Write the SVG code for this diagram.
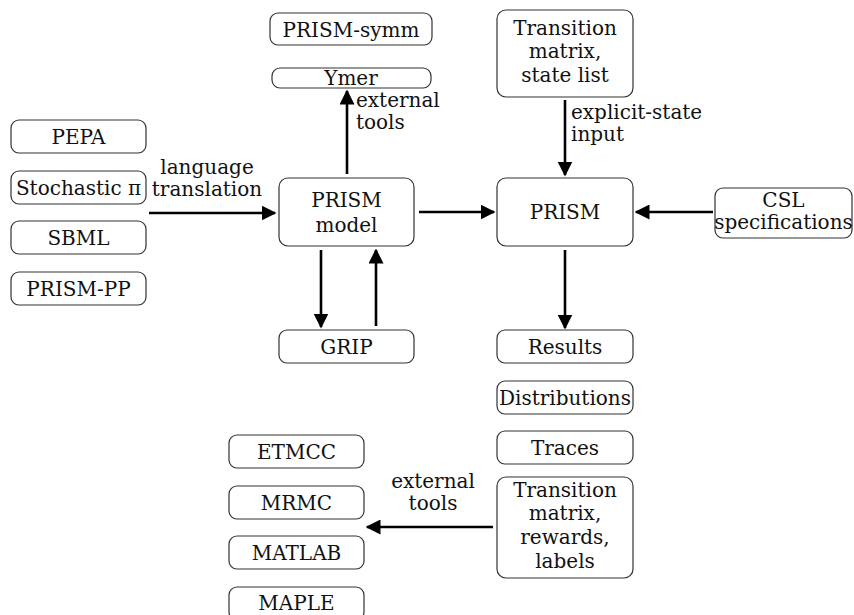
<svg xmlns="http://www.w3.org/2000/svg" width="854" height="615" viewBox="0 0 854 615" font-family="'DejaVu Serif', serif">
<style>
.box{fill:#fff;stroke:#333;stroke-width:1.2}
text{font-family:"DejaVu Serif",serif;font-size:20px;fill:#111}
.c{text-anchor:middle}
.arr{stroke:#000;stroke-width:2.6;fill:none;marker-end:url(#ah)}
</style>
<defs>
<marker id="ah" viewBox="0 0 10 10" refX="9" refY="5" markerUnits="userSpaceOnUse" markerWidth="15" markerHeight="15" orient="auto">
<path d="M0,0 L10,5 L0,10 z" fill="#000"/>
</marker>
</defs>
<rect width="854" height="615" fill="#fff"/>
<g id="pepa"><rect class="box" x="11" y="120" width="135" height="33" rx="8"/><text class="c" x="78.5" y="144">PEPA</text></g>
<g id="stochpi"><rect class="box" x="11" y="171" width="135" height="33" rx="8"/><text class="c" x="78.5" y="195">Stochastic π</text></g>
<g id="sbml"><rect class="box" x="11" y="221" width="135" height="33" rx="8"/><text class="c" x="78.5" y="245">SBML</text></g>
<g id="prismpp"><rect class="box" x="11" y="272" width="135" height="33" rx="8"/><text class="c" x="78.5" y="296">PRISM-PP</text></g>
<g id="prismsymm"><rect class="box" x="270" y="13" width="162" height="32" rx="8"/><text class="c" x="351" y="37">PRISM-symm</text></g>
<g id="ymer"><rect class="box" x="272" y="68" width="159" height="20" rx="8"/><text class="c" x="351" y="85">Ymer</text></g>
<g id="prismmodel"><rect class="box" x="279" y="178" width="135" height="68" rx="9"/><text class="c" x="346.5" y="207">PRISM</text><text class="c" x="346.5" y="232">model</text></g>
<g id="grip"><rect class="box" x="279" y="330" width="135" height="33" rx="8"/><text class="c" x="346.5" y="354">GRIP</text></g>
<g id="tmstate"><rect class="box" x="497" y="10" width="136" height="87" rx="9"/><text class="c" x="565" y="35">Transition</text><text class="c" x="565" y="58">matrix,</text><text class="c" x="565" y="82">state list</text></g>
<g id="prism"><rect class="box" x="497" y="178" width="136" height="68" rx="9"/><text class="c" x="565" y="219">PRISM</text></g>
<g id="csl"><rect class="box" x="715" y="188" width="137" height="50" rx="8"/><text class="c" x="783.5" y="207">CSL</text><text class="c" x="783.5" y="229">specifications</text></g>
<g id="results"><rect class="box" x="497" y="330" width="136" height="33" rx="8"/><text class="c" x="565" y="354">Results</text></g>
<g id="distributions"><rect class="box" x="497" y="381" width="136" height="33" rx="8"/><text class="c" x="565" y="405">Distributions</text></g>
<g id="traces"><rect class="box" x="497" y="431" width="136" height="33" rx="8"/><text class="c" x="565" y="455">Traces</text></g>
<g id="tmrewards"><rect class="box" x="497" y="477" width="136" height="101" rx="9"/><text class="c" x="565" y="497">Transition</text><text class="c" x="565" y="520">matrix,</text><text class="c" x="565" y="544">rewards,</text><text class="c" x="565" y="568">labels</text></g>
<g id="etmcc"><rect class="box" x="229" y="435" width="135" height="33" rx="8"/><text class="c" x="296.5" y="459">ETMCC</text></g>
<g id="mrmc"><rect class="box" x="229" y="486" width="135" height="33" rx="8"/><text class="c" x="296.5" y="510">MRMC</text></g>
<g id="matlab"><rect class="box" x="229" y="536" width="135" height="33" rx="8"/><text class="c" x="296.5" y="560">MATLAB</text></g>
<g id="maple"><rect class="box" x="229" y="587" width="135" height="33" rx="8"/><text class="c" x="296.5" y="610">MAPLE</text></g>
<g id="connectors">
<line class="arr" x1="149" y1="213" x2="275" y2="213"/>
<line class="arr" x1="419" y1="212" x2="494" y2="212"/>
<line class="arr" x1="713" y1="212" x2="636" y2="212"/>
<line class="arr" x1="565" y1="100" x2="565" y2="175"/>
<line class="arr" x1="565" y1="250" x2="565" y2="328"/>
<line class="arr" x1="321" y1="250" x2="321" y2="327"/>
<line class="arr" x1="376" y1="326" x2="376" y2="250"/>
<line class="arr" x1="347" y1="174" x2="347" y2="91"/>
<line class="arr" x1="493" y1="527" x2="367" y2="527"/>
<text class="c" x="207" y="174">language</text>
<text class="c" x="207" y="196">translation</text>
<text x="356" y="107">external</text>
<text x="356" y="129">tools</text>
<text x="571" y="119">explicit-state</text>
<text x="571" y="141">input</text>
<text class="c" x="433" y="488">external</text>
<text class="c" x="433" y="510">tools</text>
</g>
</svg>
